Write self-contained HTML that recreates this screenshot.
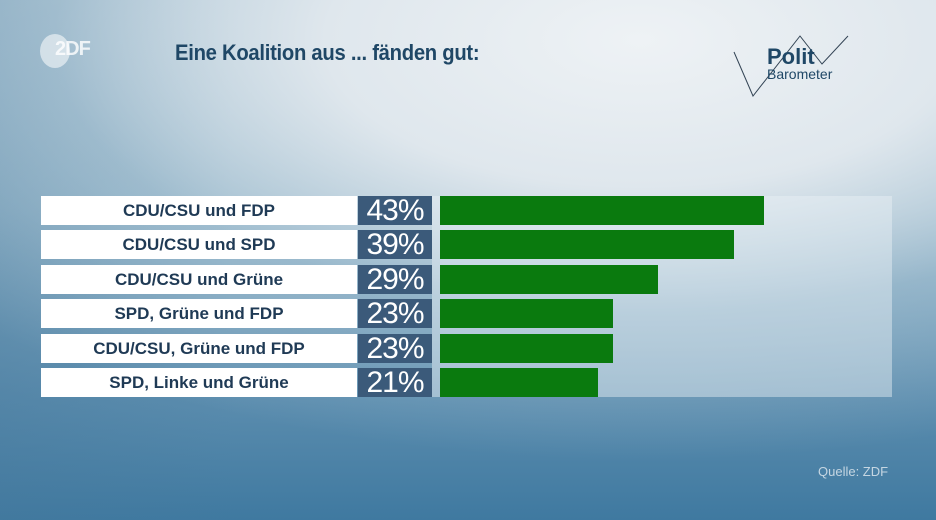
<!DOCTYPE html>
<html><head><meta charset="utf-8"><style>
body{margin:0;width:936px;height:520px;overflow:hidden;font-family:"Liberation Sans",sans-serif;}
#bg{position:absolute;left:0;top:0;width:936px;height:520px;
background:radial-gradient(ellipse 900px 420px at 640px 40px,#eef2f5 0%,#dfe7ed 35%,rgba(190,210,222,0.4) 65%,rgba(120,160,185,0) 100%),
linear-gradient(90deg,rgba(70,120,155,0.35) 0%,rgba(70,120,155,0) 25%),
linear-gradient(180deg,#a9c3d3 0%,#8fb2c7 40%,#5d8eaf 75%,#3f79a0 100%);}
.t{position:absolute;}
</style></head><body>
<div id="bg"></div>
<div class="t" style="left:40px;top:34px;width:30px;height:34px;border-radius:50%;background:rgba(255,255,255,0.55);"></div>
<div class="t" style="left:55px;top:38px;font-size:20px;font-weight:bold;color:rgba(255,255,255,0.8);letter-spacing:-1px;">2DF</div>
<div class="t" style="left:175px;top:40px;font-size:22px;font-weight:bold;color:#1f4766;transform:scaleX(0.92);transform-origin:left;letter-spacing:-0.3px;">Eine Koalition aus ... fänden gut:</div>
<svg class="t" style="left:730px;top:30px" width="150" height="70">
<polyline points="4,22 23,66 70,6 92,34 118,6" fill="none" stroke="#345" stroke-width="1"/>
<text x="37" y="34" font-size="22" font-weight="bold" fill="#1f4766" font-family="Liberation Sans">Polit</text>
<text x="37" y="49" font-size="14" fill="#1f4766" font-family="Liberation Sans">Barometer</text>
</svg>
<div class="t" style="left:432px;top:196px;width:460px;height:201px;background:rgba(235,242,246,0.45);"></div>
<div id="rows"></div>
<div class="t" style="left:818px;top:464px;font-size:13px;color:#c5d6e2;">Quelle: ZDF</div>
<script>
const categories=["CDU/CSU und FDP","CDU/CSU und SPD","CDU/CSU und Grüne","SPD, Grüne und FDP","CDU/CSU, Grüne und FDP","SPD, Linke und Grüne"];
const values=[43,39,29,23,23,21];
const x=v=>v*7.53;
const rows=document.getElementById('rows');
categories.forEach((c,i)=>{
  const y=196+i*34.4;
  const lab=document.createElement('div');
  
  
  lab.className='t';
  lab.style.cssText=`left:41px;top:${y}px;width:316px;height:29px;background:#fff;color:#1f3a55;font-weight:bold;font-size:17px;text-align:center;line-height:29px;`;
  lab.textContent=c;rows.appendChild(lab);
  const p=document.createElement('div');
  
  
  p.className='t';
  p.style.cssText=`left:358px;top:${y}px;width:74px;height:29px;background:#3b5a7a;color:#fff;font-size:30px;text-align:center;line-height:29px;letter-spacing:-1px;`;
  p.textContent=values[i]+'%';rows.appendChild(p);
  const b=document.createElement('div');
  
  
  b.className='t';
  b.style.cssText=`left:440px;top:${y}px;width:${x(values[i])}px;height:29px;background:#0a7a0e;`;
  rows.appendChild(b);
});
</script>
</body></html>
